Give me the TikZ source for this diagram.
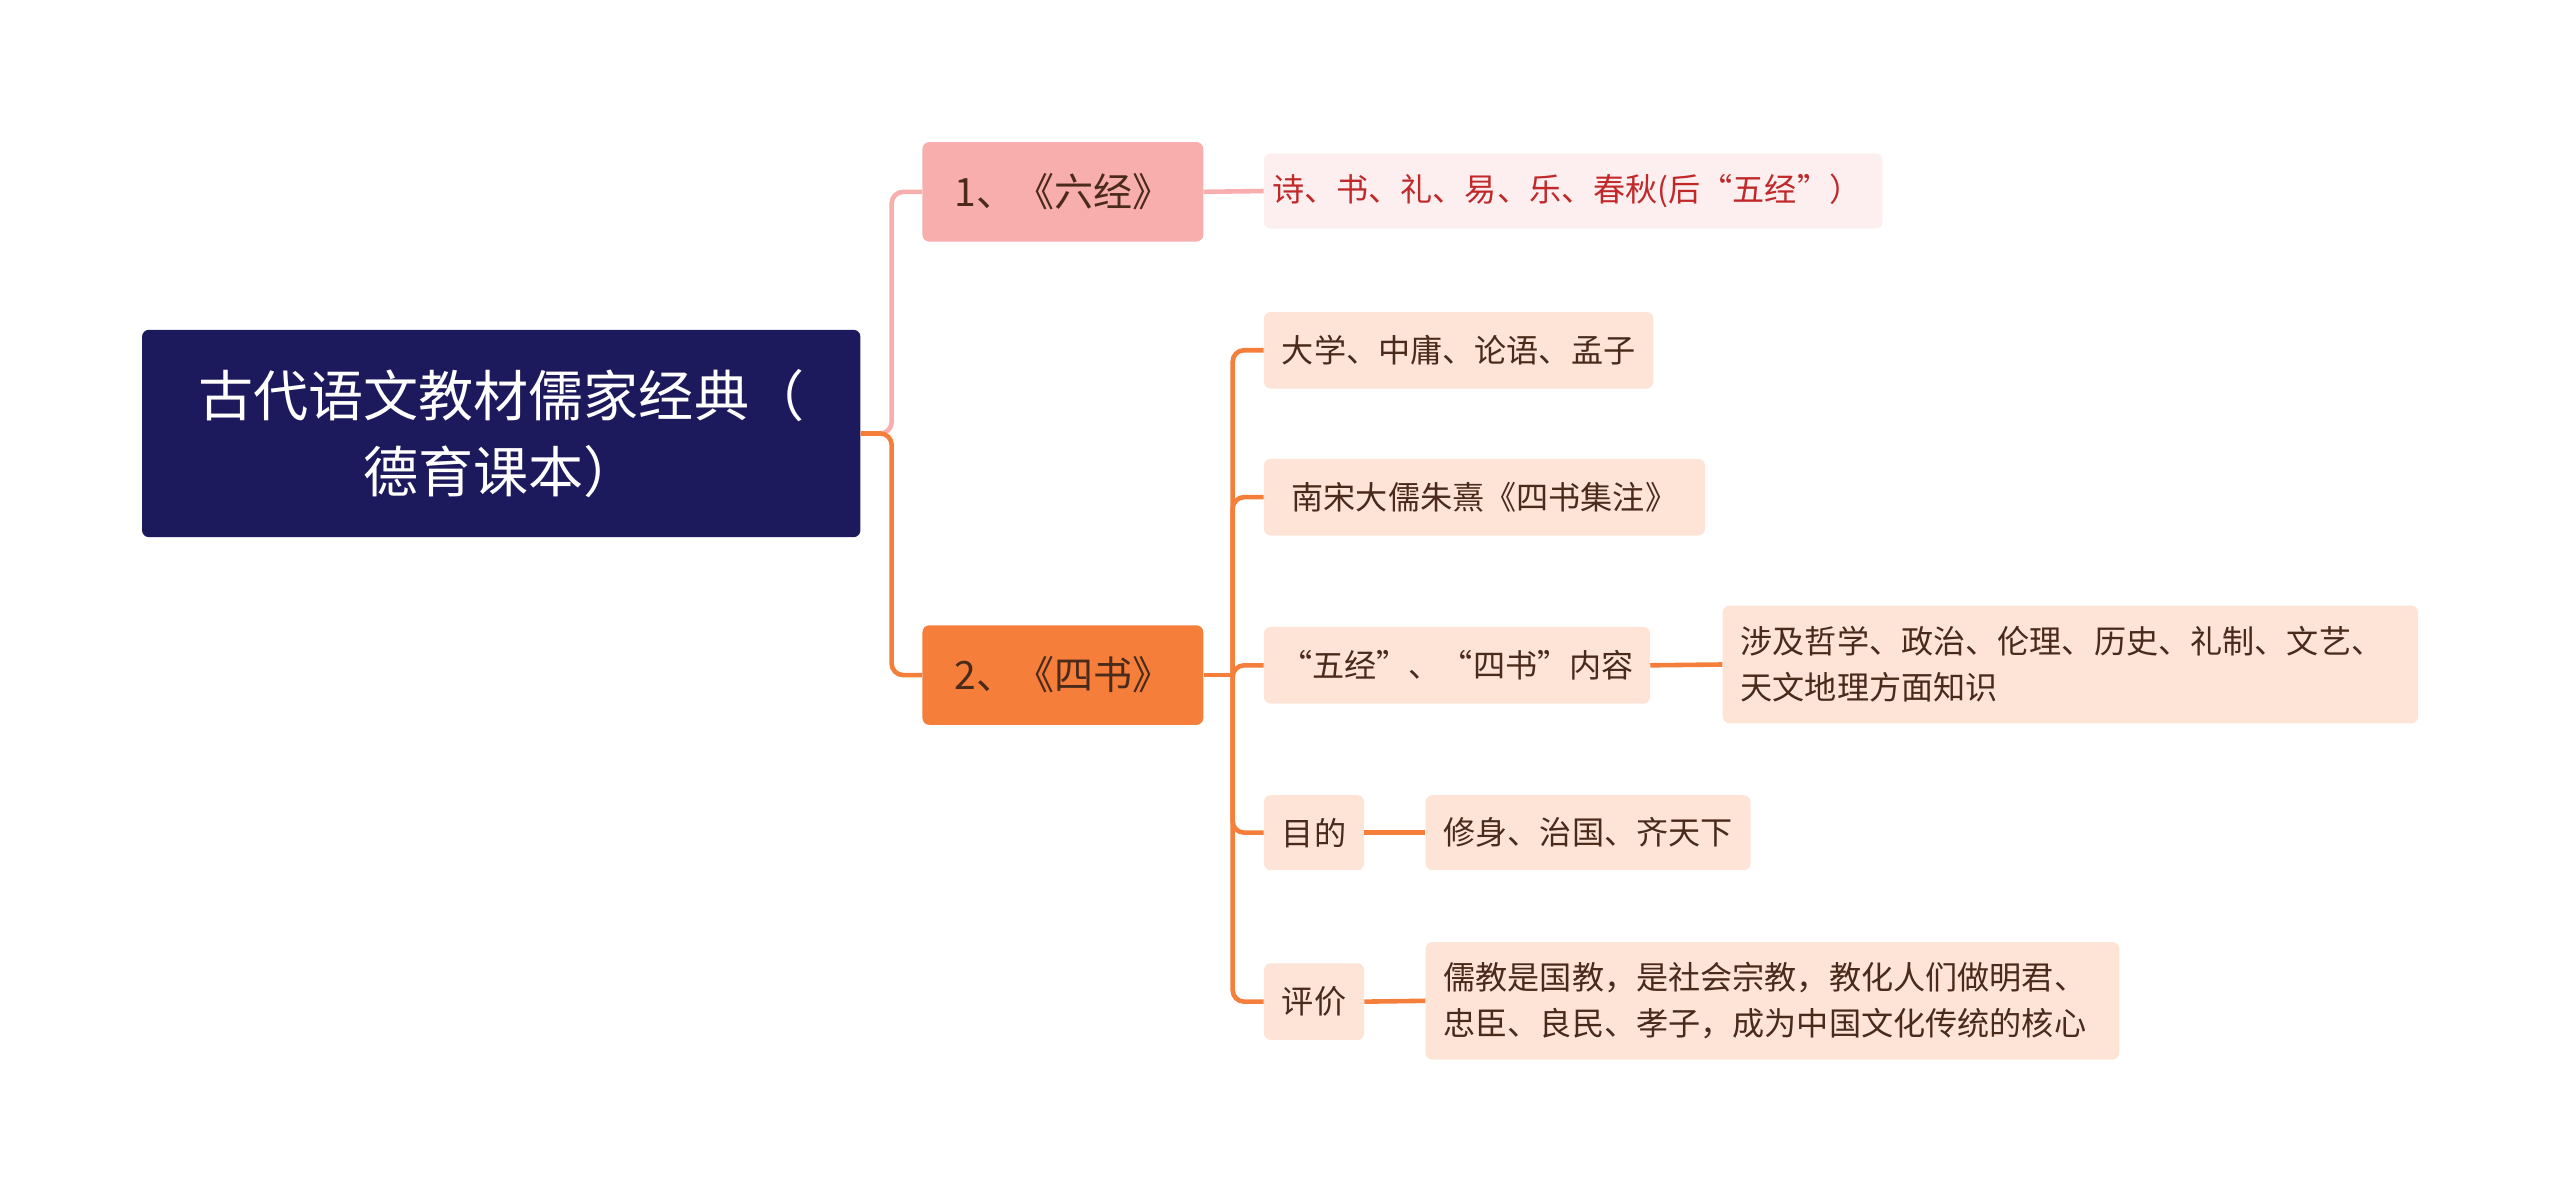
\documentclass[tikz,border=0pt]{standalone}
\usepackage{fontspec}
\setmainfont{Noto Sans CJK SC}
\begin{document}
\begin{tikzpicture}[x=0.05cm,y=-0.05cm,
  box/.style={rounded corners=6pt,inner sep=0pt,align=left},
  leaf/.style={box,fill=leafc,text=leaft,font=\fontsize{28}{40}\selectfont},
  oline/.style={draw=orc,line width=4pt,rounded corners=10pt},
  pline/.style={draw=pkc,line width=4pt,rounded corners=10pt}]
\definecolor{navy}{HTML}{1C1A5C}
\definecolor{pkc}{HTML}{F8AEAD}
\definecolor{orc}{HTML}{F47E3A}
\definecolor{leafc}{HTML}{FDE4D6}
\definecolor{leaft}{HTML}{4A2A1A}
\definecolor{pleaf}{HTML}{FDEFEF}
\definecolor{redt}{HTML}{C0282A}
\useasboundingbox (0,0) rectangle (1568,735);
\node[box,fill=navy,text=white,align=center,minimum width=440\pgflinewidth*0+440*0.05cm,minimum height=127*0.05cm,font=\fontsize{48}{66}\selectfont] (root) at (307,265.5) {古代语文教材儒家经典（\\德育课本）};
\node[box,fill=pkc,text=leaft,minimum width=172*0.05cm,minimum height=61*0.05cm,align=center,font=\fontsize{34}{40}\selectfont] (n1) at (651,117.5) {1、《六经》};
\node[box,fill=orc,text=leaft,minimum width=172*0.05cm,minimum height=61*0.05cm,align=center,font=\fontsize{34}{40}\selectfont] (n2) at (651,413.5) {2、《四书》};
\node[leaf,fill=pleaf,text=redt,minimum width=379*0.05cm,minimum height=46*0.05cm,anchor=west,text width=369*0.05cm] (l1) at (774,117) {诗、书、礼、易、乐、春秋(后“五经”）};
\node[leaf,minimum height=47*0.05cm,anchor=west,inner xsep=11*0.05cm] (a) at (774,214.5) {大学、中庸、论语、孟子};
\node[leaf,minimum height=47*0.05cm,anchor=west,inner xsep=17*0.05cm] (b) at (774,304.5) {南宋大儒朱熹《四书集注》};
\node[leaf,minimum height=47*0.05cm,anchor=west,inner xsep=10*0.05cm] (c) at (774,407.5) {“五经”、“四书”内容};
\node[leaf,minimum height=72*0.05cm,anchor=west,inner xsep=11*0.05cm,minimum width=426*0.05cm,text width=404*0.05cm] (c1) at (1055,407) {涉及哲学、政治、伦理、历史、礼制、文艺、\\天文地理方面知识};
\node[leaf,minimum height=46*0.05cm,anchor=west,inner xsep=11*0.05cm] (d) at (774,510) {目的};
\node[leaf,minimum height=46*0.05cm,anchor=west,inner xsep=11*0.05cm] (d1) at (873,510) {修身、治国、齐天下};
\node[leaf,minimum height=47*0.05cm,anchor=west,inner xsep=11*0.05cm] (e) at (774,613.5) {评价};
\node[leaf,minimum height=72*0.05cm,anchor=west,inner xsep=11*0.05cm,minimum width=425*0.05cm,text width=403*0.05cm] (e1) at (873,613) {儒教是国教，是社会宗教，教化人们做明君、\\忠臣、良民、孝子，成为中国文化传统的核心};
\begin{scope}[on background layer/.style={}]
\draw[pline] (root.east) -- ++(19,0) |- (n1.west);
\draw[oline] (root.east) -- ++(19,0) |- (n2.west);
\draw[pline,rounded corners=0pt] (n1.east) -- (l1.west);
\coordinate (t) at (755,413.5);
\draw[oline] (n2.east) -- (t);
\foreach \k in {a,b,c,d,e} \draw[oline] (t) |- (\k.west);
\draw[oline,rounded corners=0pt] (c.east) -- (c1.west);
\draw[oline,rounded corners=0pt] (d.east) -- (d1.west);
\draw[oline,rounded corners=0pt] (e.east) -- (e1.west);
\end{scope}
\end{tikzpicture}
\end{document}
